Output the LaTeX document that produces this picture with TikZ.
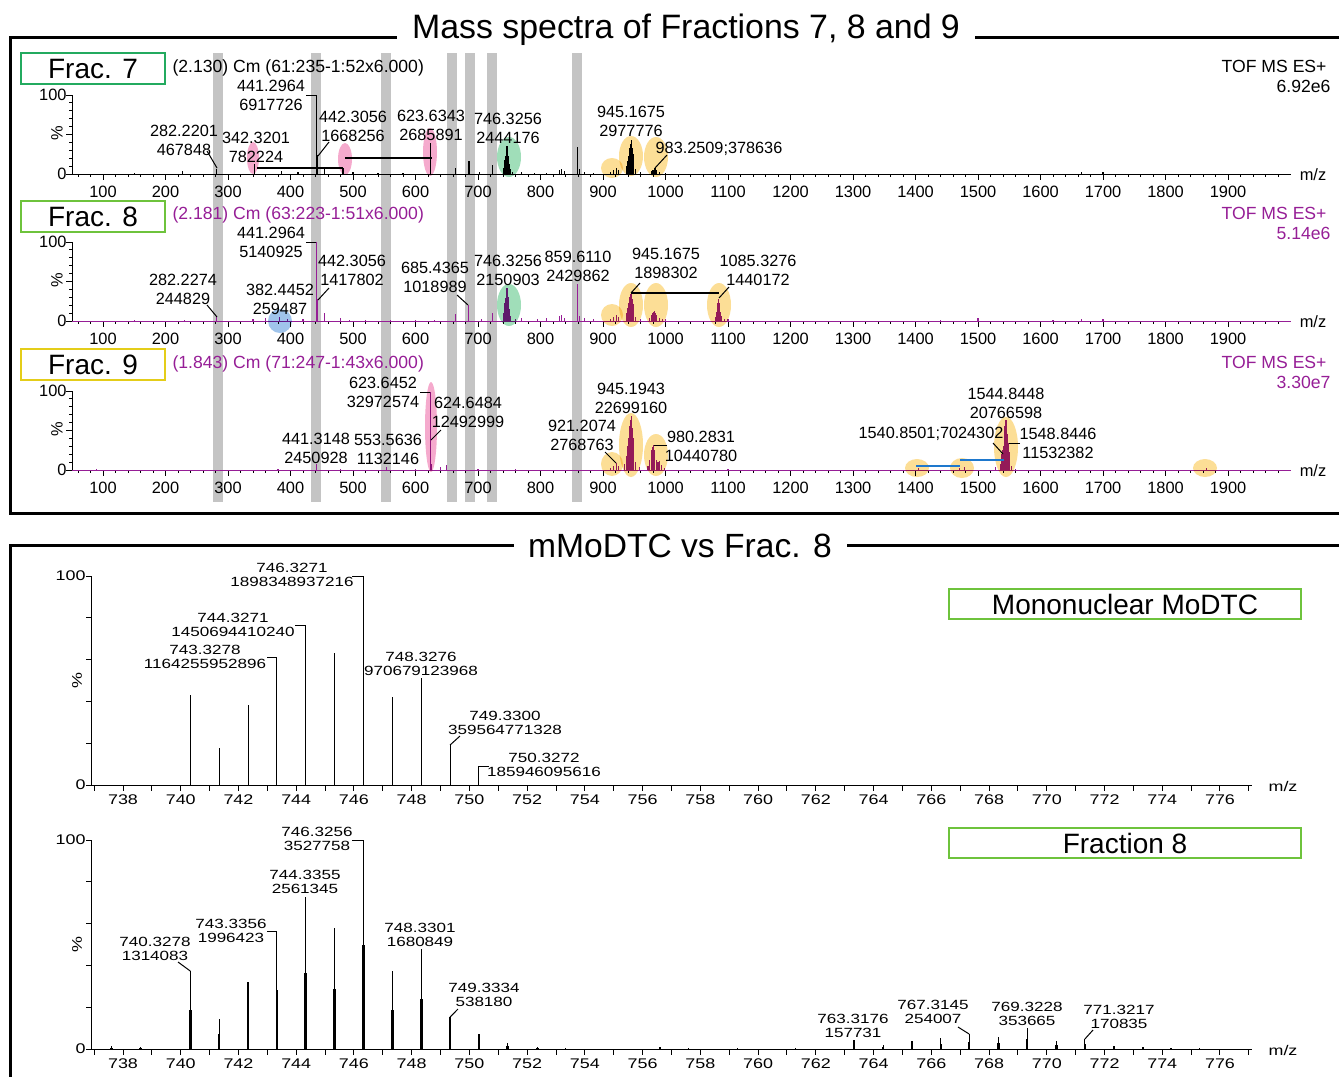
\documentclass[tikz,border=0pt]{standalone}
\usepackage{fontspec}
\setmainfont{Liberation Sans}
\newfontfamily\widefont[FakeStretch=1.28]{Liberation Sans}
\usetikzlibrary{positioning}

\definecolor{trace}{RGB}{150,30,150}
\definecolor{band}{RGB}{196,196,196}
\definecolor{hiyellow}{RGB}{252,222,150}
\definecolor{hipink}{RGB}{245,170,205}
\definecolor{higreen}{RGB}{160,222,185}
\definecolor{hiblue}{RGB}{160,196,235}
\definecolor{sevengreen}{RGB}{35,170,95}
\definecolor{eightgreen}{RGB}{110,195,60}
\definecolor{nineyellow}{RGB}{228,205,25}
\definecolor{linkblue}{RGB}{30,120,205}

\newcommand{\topx}[1]{40.5+0.625*(#1)}
\newcommand{\botx}[1]{123+28.868*((#1)-738)}

\tikzset{
  pk/.style={align=center,inner sep=0pt,font=\fontsize{12.2}{14.3}\selectfont},
  wpk/.style={align=center,inner sep=0pt,font=\widefont\fontsize{10}{10.5}\selectfont},
  tk/.style={inner sep=0pt,font=\fontsize{12.3}{14}\selectfont},
  wtk/.style={inner sep=0pt,font=\widefont\fontsize{10.5}{12}\selectfont},
  hdr/.style={inner sep=0pt,font=\fontsize{13.2}{15}\selectfont},
  fracbox/.style={draw,line width=1.5pt,minimum width=108pt,minimum height=23.5pt,inner sep=0pt,font=\fontsize{21}{24}\selectfont},
  legbox/.style={draw=eightgreen,line width=1.5pt,minimum width=264pt,minimum height=22.5pt,inner sep=0pt,font=\fontsize{21}{24}\selectfont},
  hl/.style={blend mode=multiply},
  leader/.style={line width=0.75pt},
  spec/.style={line width=0.9pt}
}

\begin{document}
\begin{tikzpicture}[x=0.75pt,y=-0.75pt,line width=0.75pt]
\useasboundingbox (0,0) rectangle (1339,1076);

% frames and titles
\draw[line width=2.25pt] (1345,37) -- (10,37) -- (10,513) -- (1345,513);
\draw[line width=2.25pt] (1345,545) -- (10,545) -- (10,1082);
\node[fill=white,inner xsep=11pt,inner ysep=3pt,anchor=base,font=\fontsize{25.4}{28}\selectfont] (ttop) at (686,38) {Mass spectra of Fractions 7, 8 and 9};
\node[fill=white,inner xsep=11pt,inner ysep=3pt,anchor=base,font=\fontsize{25.2}{28}\selectfont] (tbot) at (680,557) {mMoDTC vs Frac. 8};

% grey bands
\foreach \c in {218,316,386,452,470,492,577} \fill[band] (\c-5,53) rectangle (\c+5,502);

% top axes
\foreach \b in {174,321,470}{
  \draw (72,\b-79) -- (72,\b) -- ({\topx{2000}},\b);
  \foreach \p in {0,10,...,100} \draw (72,\b-0.79*\p) -- ++(-3,0);
  \foreach \p in {0,50,100} \draw (72,\b-0.79*\p) -- ++(-6,0);
  \foreach \m in {60,80,...,1980} \draw ({\topx{\m}},\b) -- ++(0,3);
  \foreach \m in {100,200,...,1900}{
    \draw ({\topx{\m}},\b) -- ++(0,6);
    \node[tk] (x\b-\m) at ({\topx{\m}},\b+18) {\m};
  }
  \node[tk,anchor=east] (yt\b) at (67,\b-79) {100};
  \node[tk,anchor=east] (yz\b) at (67,\b) {0};
  \node[tk,rotate=90] (pc\b) at (57,\b-41) {\%};
  \node[tk] (mz\b) at (1313,\b+1) {m/z};
}
\draw[trace] ({\topx{50}},321) -- ({\topx{2000}},321);
\draw[trace] ({\topx{50}},470) -- ({\topx{2000}},470);

% Frac. 7 trace
\foreach \m/\h in {150/1,227/3,282.2/5.4,342.3/10,386/3,412/2,441.3/79,442.3/19,455/5,484/6,500/2,540/1,580/1.5,623.6/31,664/6,685.6/13,703/2,723/9,741/6,742/10,743/14,744/18,745/22,746.3/28,747/22,748/18,749/13,750/10,752/5,755/2,770/2,790/1.5,810/1,830/4,834/5,838/3,859.6/27,862/5,870/2,885/1,912/2,917/4,921/6,925/4,938/8,940/13,941/18,942/22,943/26,944/30,945.2/34,946/30,947/26,948/20,949/14,952/5,960/2,977/3,980/4,982/5,983.3/6,986/4,990/2,1000/1.5,1665/2,1700/2}
  \draw[spec] ({\topx{\m}},174) -- ++(0,-\h);

% Frac. 8 trace
\foreach \m/\h in {150/1,230/1.5,282.2/4,340/2,360/3,382.4/4,395/2,420/2,441.3/79,442.3/22,455/8,480/3,495/1.5,520/1,560/1,600/1,630/1.5,664/7,685.4/16,705/2,723/8,741/8,742/13,743/18,744/23,745/27,746.3/33,747/28,748/24,749/16,750/12,752/5,760/2,770/3,795/2,810/3,830/5,834/6,838/3,859.6/37,862/5,870/3,885/2,912/2,917/4,921/6,925/4,938/8,940/13,941/18,942/21,943/24,944/27,945.2/29,946/26,947/22,948/17,949/12,952/4,960/2,975/3,978/6,980/8,981/9,983/10,984/8,986/6,990/3,995/2,1000/2,1080/4,1082/9,1083/14,1084/18,1085.3/22,1086/18,1087/14,1088/9,1090/5,1095/2,1100/2,1440/1.5,1500/3,1620/1.5,1665/2,1700/2}
  \draw[spec,trace] ({\topx{\m}},321) -- ++(0,-\h);

% Frac. 9 trace
\foreach \m/\h in {90/1,380/1,441.3/6,480/1,553.6/3,600/1,623.6/78,624.6/30,626/6,640/3,650/5,700/1,760/1,912/2,917/4,921.2/7,925/4,935/6,938/14,940/24,941/32,942/38,943/44,944/50,945.2/54,946/48,947/42,948/32,949/24,952/8,958/3,972/4,975/10,977/16,978/20,979/23,980.3/25,981/22,982/20,985/10,988/8,991/9,994/5,998/2,1100/1,1405/2,1470/2,1478/3,1528/3,1536/6,1538/16,1539/20,1540.9/24,1542/38,1543/44,1544.8/50,1546/44,1547/36,1548.8/27,1550/18,1551/12,1554/4,1560/1,1865/2}
  \draw[spec,trace] ({\topx{\m}},470) -- ++(0,-\h);

% highlights
\fill[hipink,hl] (253,158) ellipse (6 and 16);
\fill[hipink,hl] (345,159) ellipse (7 and 16);
\fill[hipink,hl] (430,152) ellipse (7 and 24);
\fill[higreen,hl] (509,157) ellipse (12 and 20);
\fill[hiyellow,hl] (612,168) ellipse (11 and 10);
\fill[hiyellow,hl] (631,156) ellipse (12 and 20);
\fill[hiyellow,hl] (656,157) ellipse (12 and 20);
\fill[hiblue,hl] (280,321) circle (12);
\fill[higreen,hl] (509,305) ellipse (12 and 21);
\fill[hiyellow,hl] (612,315) ellipse (11 and 11);
\fill[hiyellow,hl] (631,305) ellipse (12 and 22);
\fill[hiyellow,hl] (656,305) ellipse (12 and 22);
\fill[hiyellow,hl] (719,305) ellipse (12 and 22);
\fill[hipink,hl] (431,427) ellipse (6 and 45);
\fill[hiyellow,hl] (612,464) ellipse (11 and 12);
\fill[hiyellow,hl] (631,445) ellipse (12 and 32);
\fill[hiyellow,hl] (656,455) ellipse (12 and 21);
\fill[hiyellow,hl] (917,468) ellipse (12 and 9);
\fill[hiyellow,hl] (962,468) ellipse (12 and 10);
\fill[hiyellow,hl] (1006,447) ellipse (12 and 30);
\fill[hiyellow,hl] (1205,468) ellipse (12 and 9);

% frac boxes and headers
\node[fracbox,draw=sevengreen] (f7) at (93,68.5) {Frac. 7};
\node[fracbox,draw=eightgreen] (f8) at (93,216.5) {Frac. 8};
\node[fracbox,draw=nineyellow] (f9) at (93,364.5) {Frac. 9};
\node[hdr,anchor=base west] (h7) at (172,72.5) {(2.130) Cm (61:235-1:52x6.000)};
\node[hdr,anchor=base east] (s7) at (1327,72.5) {TOF MS ES+};
\node[hdr,anchor=base east] (i7) at (1331,92.5) {6.92e6};
\node[hdr,anchor=base west,text=trace] (h8) at (172,219.5) {(2.181) Cm (63:223-1:51x6.000)};
\node[hdr,anchor=base east,text=trace] (s8) at (1327,219.5) {TOF MS ES+};
\node[hdr,anchor=base east,text=trace] (i8) at (1331,239.5) {5.14e6};
\node[hdr,anchor=base west,text=trace] (h9) at (172,368.5) {(1.843) Cm (71:247-1:43x6.000)};
\node[hdr,anchor=base east,text=trace] (s9) at (1327,368.5) {TOF MS ES+};
\node[hdr,anchor=base east,text=trace] (i9) at (1331,388.5) {3.30e7};

% Frac. 7 labels
\node[pk] (l7a) at (184,140) {282.2201\\467848};
\node[pk] (l7b) at (256,147) {342.3201\\782224};
\node[pk] (l7c) at (271,95) {441.2964\\6917726};
\node[pk] (l7d) at (353,126) {442.3056\\1668256};
\node[pk] (l7e) at (431,125) {623.6343\\2685891};
\node[pk] (l7f) at (508,128) {746.3256\\2444176};
\node[pk] (l7g) at (631,121) {945.1675\\2977776};
\node[pk] (l7h) at (719,149) {983.2509;378636};
\draw[leader] (207,151) -- (217,168);
\draw[leader] (306,95) -- ({\topx{441.3}},95);
\draw[leader] (329,142) -- (318,156);
\draw[leader] (667,155) -- (655,168);
\draw[line width=1.2pt] (257,168) -- (343,168);
\draw[line width=1.2pt] (345,158) -- (432,158);

% Frac. 8 labels
\node[pk] (l8a) at (183,289) {282.2274\\244829};
\node[pk] (l8b) at (280,299) {382.4452\\259487};
\node[pk] (l8c) at (271,242) {441.2964\\5140925};
\node[pk] (l8d) at (352,270) {442.3056\\1417802};
\node[pk] (l8e) at (435,277) {685.4365\\1018989};
\node[pk] (l8f) at (508,270) {746.3256\\2150903};
\node[pk] (l8g) at (578,266) {859.6110\\2429862};
\node[pk] (l8h) at (666,263) {945.1675\\1898302};
\node[pk] (l8i) at (758,270) {1085.3276\\1440172};
\draw[leader] (207,305) -- (217,317);
\draw[leader] (306,242) -- ({\topx{441.3}},242);
\draw[leader] (329,288) -- (318,300);
\draw[leader] (457,295) -- (468,305);
\draw[leader] (640,283) -- (631,293);
\draw[leader] (729,287) -- (719,298);
\draw[line width=1.2pt] (631,293) -- (719,293);

% Frac. 9 labels
\node[pk] (l9a) at (383,392) {623.6452\\32972574};
\node[pk] (l9b) at (468,412) {624.6484\\12492999};
\node[pk] (l9c) at (316,448) {441.3148\\2450928};
\node[pk] (l9d) at (388,449) {553.5636\\1132146};
\node[pk] (l9e) at (582,435) {921.2074\\2768763};
\node[pk] (l9f) at (631,398) {945.1943\\22699160};
\node[pk] (l9g) at (701,446) {980.2831\\10440780};
\node[pk] (l9h) at (1006,403) {1544.8448\\20766598};
\node[pk] (l9i) at (931,434) {1540.8501;7024302};
\node[pk] (l9j) at (1058,443) {1548.8446\\11532382};
\draw[leader] (420,392) -- (430,392);
\draw[leader] (441,430) -- (431,440);
\draw[leader] (605,452) -- (616,463);
\draw[leader] (667,445) -- (654,445);
\draw[leader] (993,443) -- (1003,454);
\draw[leader] (1020,443) -- (1009,443);
\draw[linkblue,line width=1.5pt] (916,466) -- (960,466);
\draw[linkblue,line width=1.5pt] (960,460) -- (1004,460);

% bottom axes
\foreach \b in {785,1049}{
  \draw (91,\b-209) -- (91,\b) -- (1252,\b);
  \foreach \p in {0,20,...,100} \draw (91,\b-2.09*\p) -- ++(-5,0);
  \foreach \m in {737,...,777} \draw ({\botx{\m}},\b) -- ++(0,6);
  \foreach \m in {738,740,...,776} \node[wtk] (b\b-\m) at ({\botx{\m}},\b+15) {\m};
  \node[wtk,anchor=east] (byt\b) at (86,\b-209) {100};
  \node[wtk,anchor=east] (byz\b) at (86,\b) {0};
  \node[wtk,rotate=90] (bpc\b) at (77,\b-104) {\%};
  \node[wtk] (bmz\b) at (1283,\b+1) {m/z};
}

% mMoDTC
\foreach \m/\h in {740.33/90,741.33/37,742.33/80,743.33/128,744.33/160,745.33/132,746.33/209,747.33/88,748.33/107,749.33/40,750.33/19}
  \draw ({\botx{\m}},785) -- ++(0,-\h);
\node[legbox] (leg1) at (1125,604) {Mononuclear MoDTC};
\node[wpk] (m746) at (292,575) {746.3271\\1898348937216};
\node[wpk] (m744) at (233,625) {744.3271\\1450694410240};
\node[wpk] (m743) at (205,657) {743.3278\\1164255952896};
\node[wpk] (m748) at (421,664) {748.3276\\970679123968};
\node[wpk] (m749) at (505,723) {749.3300\\359564771328};
\node[wpk] (m750) at (544,765) {750.3272\\185946095616};
\draw[leader] (352,576) -- ({\botx{746.33}},576);
\draw[leader] (295,625) -- ({\botx{744.33}},625);
\draw[leader] (267,657) -- ({\botx{743.33}},657);
\draw[leader] (460,736) -- ({\botx{749.33}},745);
\draw[leader] (489,766) -- ({\botx{750.33}},766);

% Fraction 8 (expanded)
\foreach \m/\h in {737.6/3,738.6/2,740.33/78,741.33/30,742.33/67,743.33/118,744.33/152,745.33/121,746.33/209,747.33/78,748.33/100,749.33/32,750.33/15,751.33/6,752.35/2,753.33/1,756.6/2,757.6/1,759.3/1,761.3/1,763.32/9,764.33/4,765.33/8,766.33/11,767.31/15,768.33/12,769.32/21,770.33/8,771.32/10,772.33/3,773.33/2,774.3/1,775.3/1}{
  \draw[line width=0.9pt] ({\botx{\m}},1049) -- ++(0,-\h);
  \draw[line width=2pt] ({\botx{\m}},1049) -- ++(0,{-0.5*\h});
}
\node[legbox] (leg2) at (1125,843) {Fraction 8};
\node[wpk] (f746) at (317,839) {746.3256\\3527758};
\node[wpk] (f744) at (305,882) {744.3355\\2561345};
\node[wpk] (f743) at (231,931) {743.3356\\1996423};
\node[wpk] (f740) at (155,949) {740.3278\\1314083};
\node[wpk] (f748) at (420,935) {748.3301\\1680849};
\node[wpk] (f749) at (484,995) {749.3334\\538180};
\node[wpk] (f763) at (853,1026) {763.3176\\157731};
\node[wpk] (f767) at (933,1012) {767.3145\\254007};
\node[wpk] (f769) at (1027,1014) {769.3228\\353665};
\node[wpk] (f771) at (1119,1017) {771.3217\\170835};
\draw[leader] (352,840) -- ({\botx{746.33}},840);
\draw[leader] (267,931) -- ({\botx{743.33}},931);
\draw[leader] (178,962) -- ({\botx{740.33}},971);
\draw[leader] (458,1009) -- ({\botx{749.33}},1017);
\draw[leader] (958,1027) -- ({\botx{767.31}},1034);
\draw[leader] (1093,1030) -- ({\botx{771.32}},1039);
\end{tikzpicture}
\end{document}
